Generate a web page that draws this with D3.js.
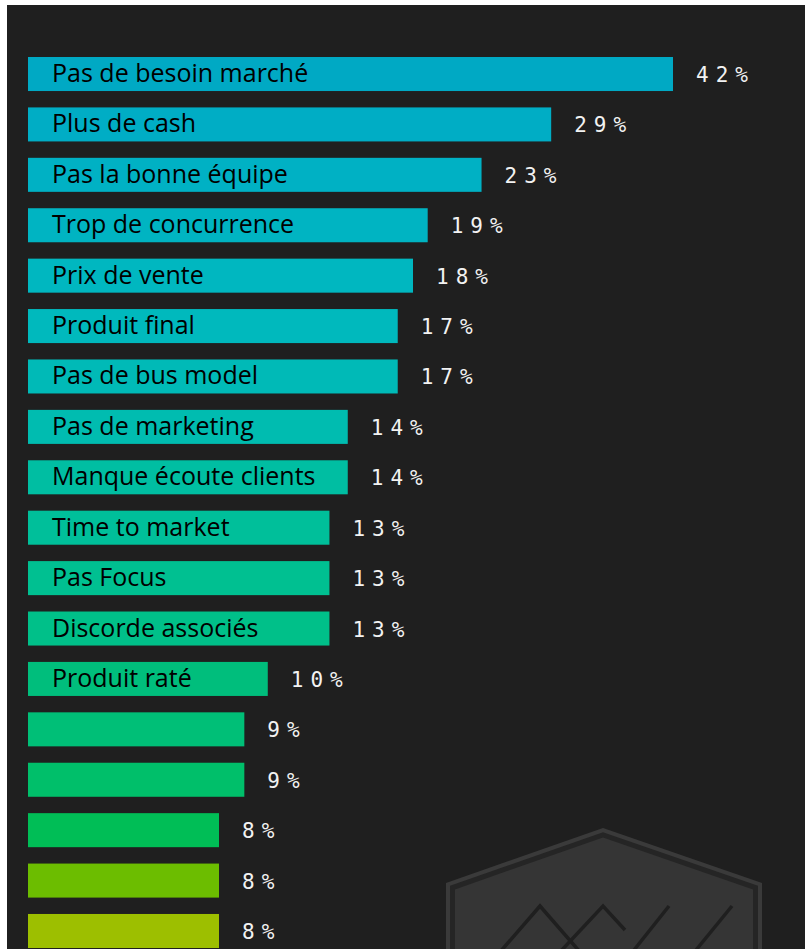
<!DOCTYPE html>
<html>
<head>
<meta charset="utf-8">
<script src="https://cdn.jsdelivr.net/npm/d3@7"></script>
<style>
  body { margin: 0; background: #ffffff; }
</style>
</head>
<body>
<script>
/////////////////////////////
// Raisons d'échec startup //
/////////////////////////////

var reasons = [
    "Pas de besoin marché", "Plus de cash", "Pas la bonne équipe",
    "Trop de concurrence", "Prix de vente", "Produit final",
    "Pas de bus model", "Pas de marketing", "Manque écoute clients",
    "Time to market", "Pas Focus", "Discorde associés", "Produit raté",
    "", "", "", "", ""
];
var percents = [42, 29, 23, 19, 18, 17, 17, 14, 14, 13, 13, 13, 10, 9, 9, 8, 8, 8];
var barColors = [
    "#00a9c4", "#00adc5", "#00b1c4", "#00b4c2", "#00b7c0", "#00b9bd",
    "#00bab7", "#00bcb0", "#00bea2", "#00bf9a", "#00c091", "#00c089",
    "#00be7c", "#00bf77", "#00bf6a", "#00be56", "#6cbd00", "#9dbf00"
];

var W = 805, H = 949;

var svg = d3.select("body").append("svg")
    .attr("width", W)
    .attr("height", H)

// Dark panel (white margin top and left, like the cropped picture)
svg.append("rect")
    .attr("x", 7).attr("y", 5)
    .attr("width", W - 7).attr("height", H - 5)
    .style("fill", "#1f1f1f")

// Watermark logo in the bottom right
var hex = function(d) {
    // hexagon top, inset by d px
    var k = 0.35, c = 1.06;
    return [
        [446 + d, 1000], [446 + d, 883 + (c - k) * d],
        [603, 828 + c * d],
        [762 - d, 883 + (c - k) * d], [762 - d, 1000]
    ].map(function(p) { return p.join(","); }).join(" ");
}
svg.append("polygon").attr("points", hex(0)).style("fill", "#3a3a3a")
svg.append("polygon").attr("points", hex(4)).style("fill", "#252525")
svg.append("polygon").attr("points", hex(9)).style("fill", "#353535")
var mountains = [
    [[500, 952], [540, 906], [580, 952]],
    [[560, 952], [603, 906], [625, 930]],
    [[669, 906], [634, 950]],
    [[732, 906], [696, 950]]
];
svg.selectAll("polyline.logo").data(mountains).enter().append("polyline")
    .attr("class", "logo")
    .attr("points", function(pts) { return pts.map(function(p) { return p.join(","); }).join(" "); })
    .style("fill", "none")
    .style("stroke", "#1f1f1f")
    .style("stroke-width", 3.5)

// Scales (the bars of the original are not drawn to a linear scale)
var x = d3.scalePow().exponent(0.3)
    .domain([8, 42])
    .range([219, 673])
var x0 = 28;

var y = d3.scaleBand()
    .domain(d3.range(percents.length))
    .range([57, 948])
    .paddingInner(0.325)
    .paddingOuter(0)

var rows = svg.selectAll("g.row")
    .data(percents)
    .enter().append("g")
    .attr("class", "row")
    .attr("transform", function(d, i) { return "translate(0," + y(i) + ")"; })

rows.append("rect")
    .attr("x", x0)
    .attr("width", function(d) { return x(d) - x0; })
    .attr("height", y.bandwidth())
    .style("fill", function(d, i) { return barColors[i]; })

rows.append("text")
    .attr("x", 52)
    .attr("y", y.bandwidth() / 2 + 8)
    .style("font-family", "'Open Sans', Lato, sans-serif")
    .style("font-size", "25px")
    .style("fill", "#000")
    .text(function(d, i) { return reasons[i]; })

rows.append("text")
    .attr("x", function(d) { return x(d) + 23; })
    .attr("y", y.bandwidth() / 2 + 8)
    .style("font-family", "'DejaVu Sans Mono', monospace")
    .style("font-size", "21px")
    .style("letter-spacing", "7px")
    .style("fill", "#f2f2f2")
    .text(function(d) { return d + "%"; })
</script>
</body>
</html>
